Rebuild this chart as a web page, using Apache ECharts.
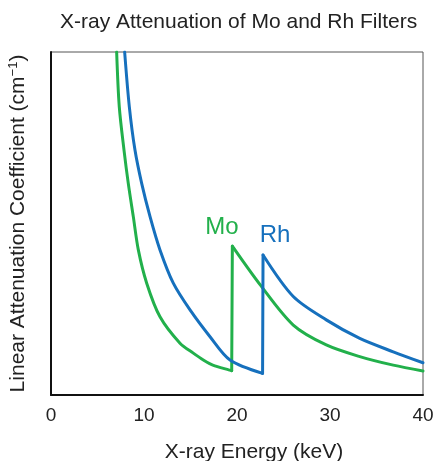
<!DOCTYPE html>
<html>
<head>
<meta charset="utf-8">
<title>X-ray Attenuation of Mo and Rh Filters</title>
<script src="https://cdn.jsdelivr.net/npm/echarts@6/dist/echarts.min.js"></script>
<style>
  html, body { margin: 0; padding: 0; background: #fff; }
  #chart { width: 438px; height: 461px; }
</style>
</head>
<body>
<div id="chart"></div>
<script>
// energy (keV) / relative attenuation
var moEnergy = [7.06, 7.34, 7.85, 8.31, 8.85, 9.39, 10.29, 11.72, 13.87, 15.3, 16.38, 17.4, 19.43, 19.5, 22.5, 26.05, 29.6, 33.2, 36.8, 40];
var moValue  = [100, 84.1, 71.4, 61.7, 52.0, 42.3, 32.6, 22.8, 15.1, 12.2, 10.2, 8.7, 7.1, 43.4, 32.1, 20.4, 14.6, 11.2, 8.7, 7.0];
var rhEnergy = [7.92, 8.42, 9.03, 9.75, 10.65, 11.72, 13.15, 14.95, 17.1, 19.25, 22.75, 22.8, 26.05, 29.6, 33.2, 36.8, 40];
var rhValue  = [100, 84.1, 71.4, 61.7, 52.0, 42.3, 32.6, 24.8, 17.0, 10.2, 6.3, 40.8, 28.7, 21.9, 16.5, 12.6, 9.4];
// index of the last point before each K-edge jump
var moEdge = 12;
var rhEdge = 10;
var xTicks = [0, 10, 20, 30, 40];
// where the element names sit (keV, value)
var moLabelAt = [18.39, 48.8];
var rhLabelAt = [24.09, 46.4];

var GREEN = '#22b04b';
var BLUE = '#1670bd';
var FONT = 'Liberation Sans, Arial, Helvetica, sans-serif';

function pairs(xs, ys, from, to) {
  var out = [];
  for (var i = from; i <= to; i++) out.push([xs[i], ys[i]]);
  return out;
}

function nameMark(text, at, color) {
  return {
    symbol: 'circle',
    symbolSize: 1,
    silent: true,
    itemStyle: { color: 'rgba(0,0,0,0)' },
    label: {
      show: true,
      position: 'inside',
      formatter: text,
      color: color,
      fontSize: 24,
      fontFamily: FONT
    },
    data: [{ coord: at }]
  };
}

// one element = smooth curve up to the edge, straight jump, smooth curve after
function element(name, xs, ys, edge, color, labelAt) {
  var base = {
    name: name,
    type: 'line',
    showSymbol: false,
    silent: true,
    lineStyle: { color: color, width: 3, cap: 'round', join: 'round' },
    itemStyle: { color: color }
  };
  return [
    Object.assign({}, base, { data: pairs(xs, ys, 0, edge), smooth: 0.3 }),
    Object.assign({}, base, { data: pairs(xs, ys, edge, edge + 1) }),
    Object.assign({}, base, { data: pairs(xs, ys, edge + 1, xs.length - 1), smooth: 0.3,
      markPoint: nameMark(name, labelAt, color) })
  ];
}

var chart = echarts.init(document.getElementById('chart'), null, { renderer: 'canvas' });
chart.setOption({
  animation: false,
  backgroundColor: '#fff',
  title: {
    text: 'X-ray Attenuation of Mo and Rh Filters',
    left: 60,
    top: 12,
    padding: 0,
    textStyle: { fontSize: 21, fontWeight: 'normal', color: '#222', fontFamily: FONT }
  },
  grid: {
    left: 51, right: 15, top: 52, bottom: 66,
    outerBoundsMode: 'none',
    containLabel: false,
    show: true,
    borderColor: '#555',
    borderWidth: 1
  },
  xAxis: {
    type: 'value',
    min: xTicks[0],
    max: xTicks[xTicks.length - 1],
    interval: 10,
    name: 'X-ray Energy (keV)',
    nameLocation: 'middle',
    nameGap: 47,
    nameTextStyle: { fontSize: 21, color: '#222', fontFamily: FONT, padding: [0, 0, 0, 34] },
    axisLine: { lineStyle: { color: '#111', width: 2 } },
    axisTick: { show: false },
    splitLine: { show: false },
    axisLabel: { fontSize: 19, color: '#222', fontFamily: FONT, margin: 11 }
  },
  yAxis: {
    type: 'value',
    min: 0,
    max: 100,
    name: '{a|Linear Attenuation Coefficient (cm}{s|−1}{a|)}',
    nameLocation: 'middle',
    nameGap: 22,
    nameTextStyle: {
      rich: {
        a: { fontSize: 21, color: '#222', fontFamily: FONT },
        s: { fontSize: 13, color: '#222', fontFamily: FONT, verticalAlign: 'top', padding: [0, 0, 9, 0] }
      }
    },
    axisLine: { show: true, lineStyle: { color: '#111', width: 2 } },
    axisTick: { show: false },
    axisLabel: { show: false },
    splitLine: { show: false }
  },
  series: element('Mo', moEnergy, moValue, moEdge, GREEN, moLabelAt)
    .concat(element('Rh', rhEnergy, rhValue, rhEdge, BLUE, rhLabelAt))
});
</script>
</body>
</html>
